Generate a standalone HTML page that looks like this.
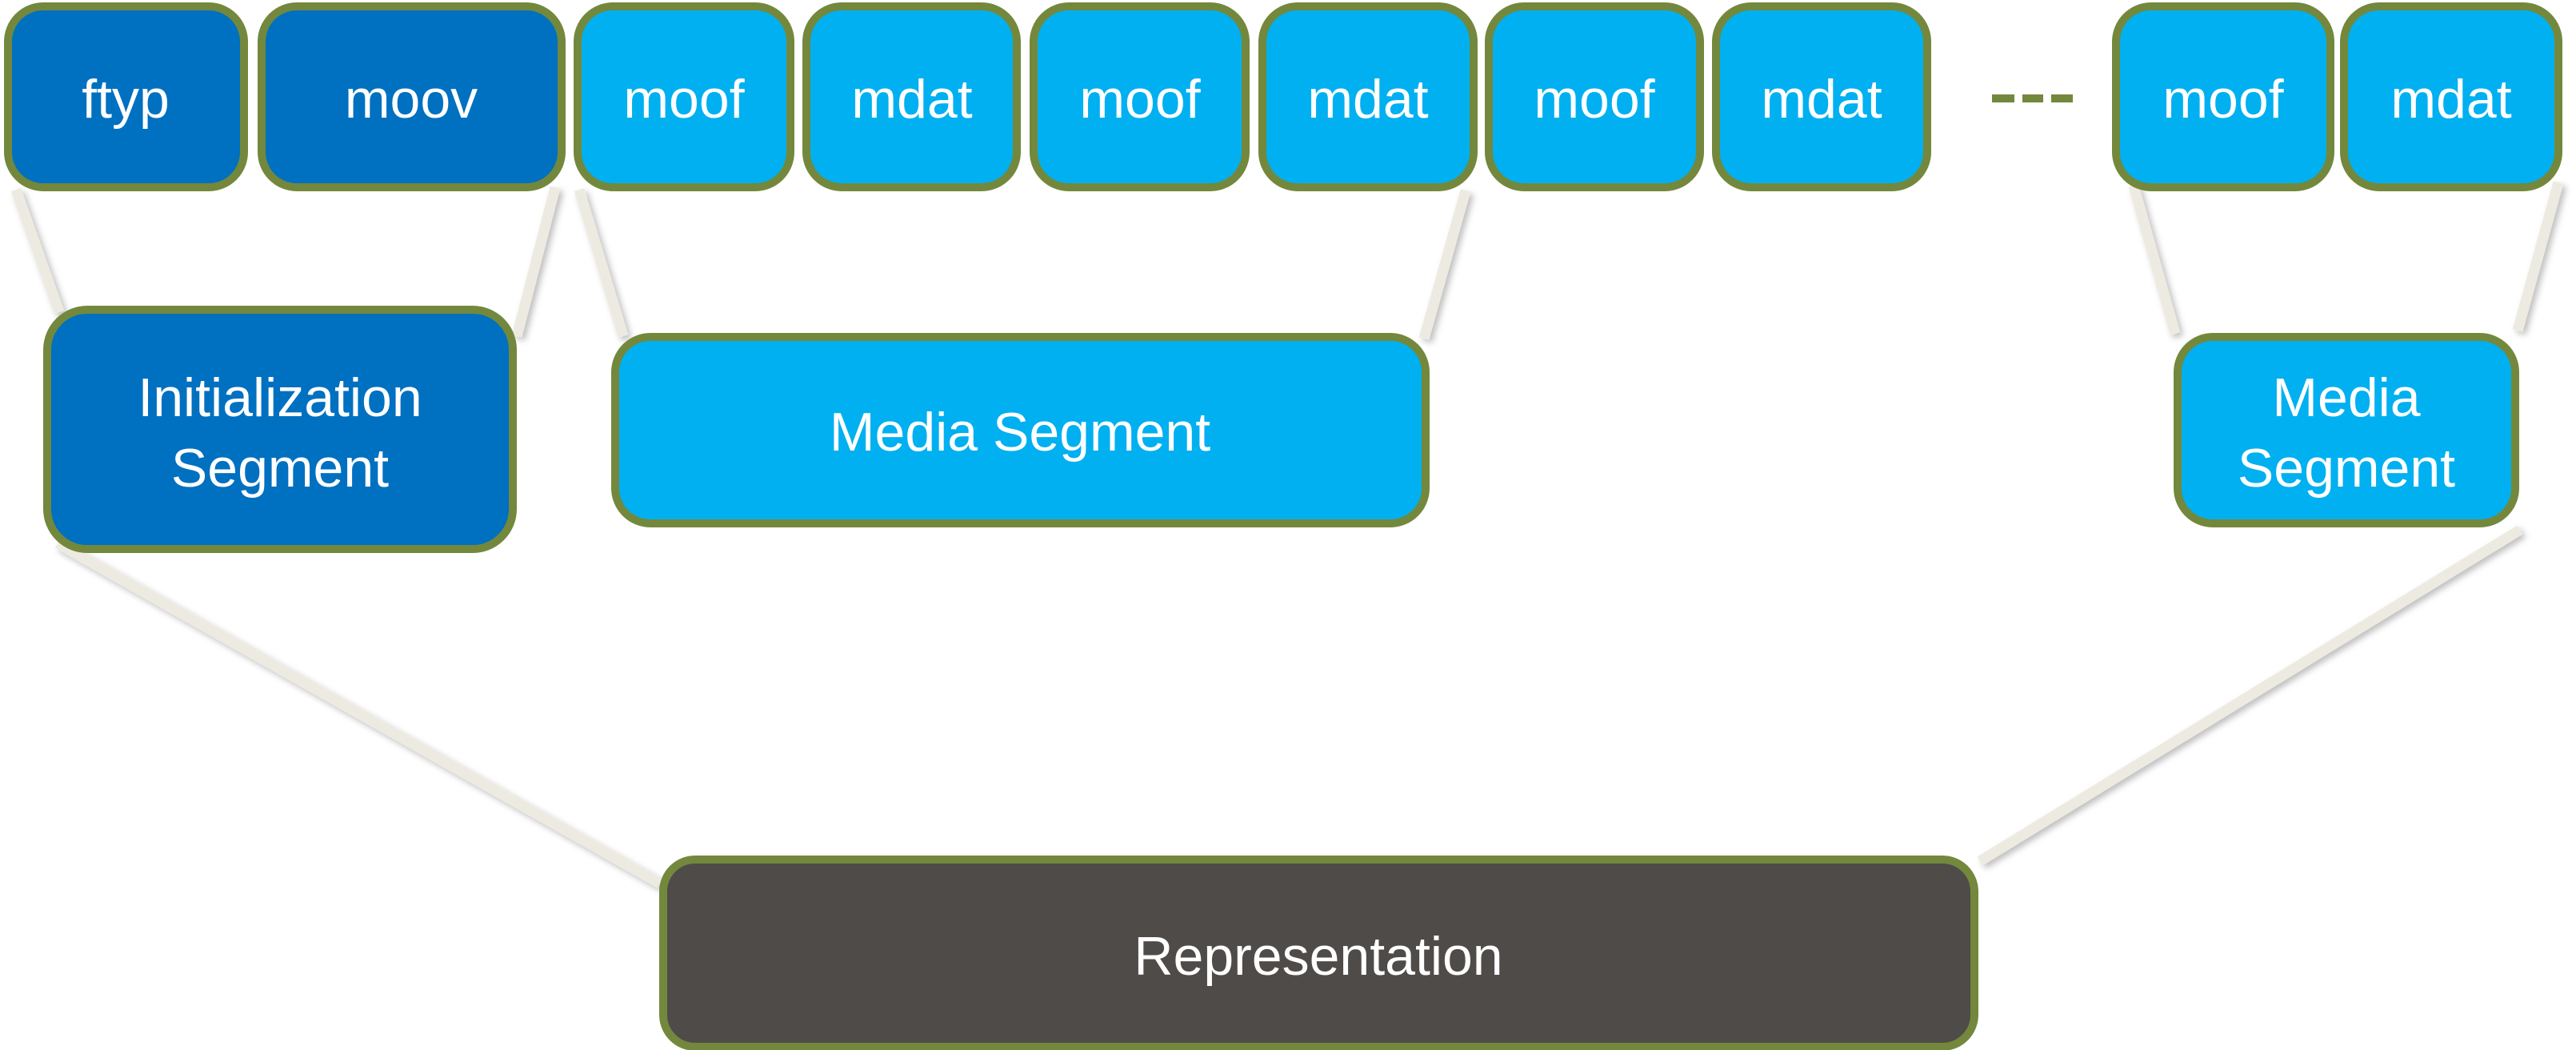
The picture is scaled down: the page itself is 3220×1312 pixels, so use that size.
<!DOCTYPE html>
<html><head><meta charset="utf-8"><style>
html,body{margin:0;padding:0;background:#fff;width:3220px;height:1312px;overflow:hidden}
text{font-family:"Liberation Sans",sans-serif;fill:#fff;font-size:68px;text-anchor:middle}
</style></head><body>
<svg width="3220" height="1312" viewBox="0 0 3220 1312" xmlns="http://www.w3.org/2000/svg">
<defs><filter id="sh" x="-50%" y="-50%" width="200%" height="200%"><feDropShadow dx="4" dy="4" stdDeviation="4" flood-color="#000" flood-opacity="0.25"/></filter></defs>
<g stroke="#EDEBE1" stroke-width="13" filter="url(#sh)">
<line x1="20" y1="237" x2="74" y2="390"/>
<line x1="694" y1="234" x2="646" y2="420"/>
<line x1="724" y1="237" x2="779" y2="420"/>
<line x1="1832" y1="238" x2="1780" y2="423"/>
<line x1="2667" y1="232" x2="2719" y2="417"/>
<line x1="3198" y1="228" x2="3147" y2="413"/>
<line x1="72" y1="679" x2="825" y2="1104"/>
<line x1="3150" y1="662" x2="2475" y2="1076"/>
</g>
<g stroke="#73883D" stroke-width="10">
<rect x="10" y="8" width="295" height="226" rx="44" fill="#0070C0"/>
<rect x="327" y="8" width="375" height="226" rx="44" fill="#0070C0"/>
<rect x="722" y="8" width="266" height="226" rx="44" fill="#00B0F0"/>
<rect x="1008" y="8" width="263" height="226" rx="44" fill="#00B0F0"/>
<rect x="1292" y="8" width="265" height="226" rx="44" fill="#00B0F0"/>
<rect x="1578" y="8" width="264" height="226" rx="44" fill="#00B0F0"/>
<rect x="1861" y="8" width="264" height="226" rx="44" fill="#00B0F0"/>
<rect x="2145" y="8" width="264" height="226" rx="44" fill="#00B0F0"/>
<rect x="2645" y="8" width="268" height="226" rx="44" fill="#00B0F0"/>
<rect x="2930" y="8" width="268" height="226" rx="44" fill="#00B0F0"/>
<rect x="59" y="387" width="582" height="299" rx="50" fill="#0070C0"/>
<rect x="769" y="421" width="1013" height="233" rx="44" fill="#00B0F0"/>
<rect x="2722" y="421" width="422" height="233" rx="44" fill="#00B0F0"/>
<rect x="829" y="1074" width="1639" height="234" rx="40" fill="#4F4B49"/>
</g>
<g fill="#73883D">
<rect x="2490" y="118" width="28" height="10"/>
<rect x="2528" y="118" width="26" height="10"/>
<rect x="2564" y="118" width="27" height="10"/>
</g>
<text x="157" y="147">ftyp</text>
<text x="514" y="147">moov</text>
<text x="855" y="147">moof</text>
<text x="1140" y="147">mdat</text>
<text x="1425" y="147">moof</text>
<text x="1710" y="147">mdat</text>
<text x="1993" y="147">moof</text>
<text x="2277" y="147">mdat</text>
<text x="2779" y="147">moof</text>
<text x="3064" y="147">mdat</text>
<text x="350" y="520">Initialization</text>
<text x="350" y="608">Segment</text>
<text x="1275" y="563">Media Segment</text>
<text x="2933" y="520">Media</text>
<text x="2933" y="608">Segment</text>
<text x="1648" y="1218">Representation</text>
</svg>
</body></html>
